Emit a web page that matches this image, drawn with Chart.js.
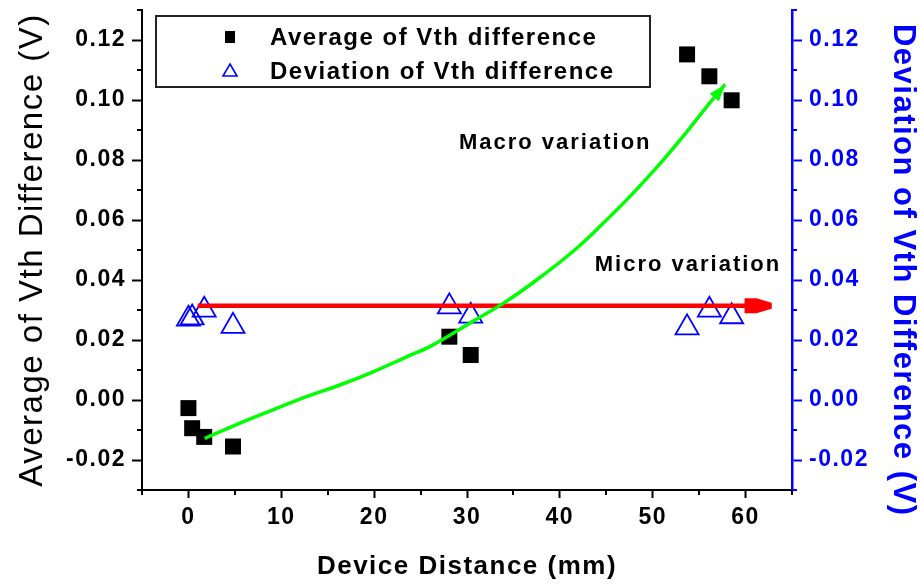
<!DOCTYPE html>
<html>
<head>
<meta charset="utf-8">
<script src="https://cdn.jsdelivr.net/npm/chart.js@4.4.1/dist/chart.umd.min.js"></script>
<style>
  html, body { margin: 0; padding: 0; background: #fff; }
  #wrap { width: 921px; height: 587px; position: relative; }
</style>
</head>
<body>
<div id="wrap"><canvas id="c" width="921" height="587"></canvas></div>
<script>
// Measured Vth difference vs. device distance (mm)
const distance = [0, 0.4, 1.7, 4.8, 28.1, 30.4, 53.7, 56.1, 58.5];
const avgVth   = [-0.0027, -0.0094, -0.0123, -0.0155, 0.0211, 0.0150, 0.1152, 0.1079, 0.0999];
const devVth   = [0.0270, 0.0274, 0.0300, 0.0246, 0.0311, 0.0280, 0.0241, 0.0300, 0.0278];

// Axis ticks
const xTicks      = [0, 10, 20, 30, 40, 50, 60];
const xMinorTicks = [-5, 5, 15, 25, 35, 45, 55, 65];
const yTicks      = [-0.02, 0.00, 0.02, 0.04, 0.06, 0.08, 0.10, 0.12];
const yMinorTicks = [-0.03, -0.01, 0.01, 0.03, 0.05, 0.07, 0.09, 0.11, 0.13];

// Trend guides: macro (green curve) and micro (red flat line)
const macroX = [1.75, 5.5, 9.1, 12.7, 16.3, 19.9, 23.5, 26.0, 30.3, 33.9, 37.5, 41.6, 44.3, 47.5, 51.1, 53.6, 55.8, 57.8];
const macroY = [-0.0128, -0.0078, -0.0033, 0.0011, 0.0050, 0.0094, 0.0144, 0.0178, 0.0256, 0.0322, 0.0400, 0.0500, 0.0578, 0.0677, 0.0799, 0.0891, 0.0977, 0.1052];
const microX = [1.0, 62.8];
const microY = [0.0314, 0.0314];

const noteText = ['Macro variation', 'Micro variation'];
const noteX    = [39.5, 53.8];
const noteY    = [0.0857, 0.0450];

const FONT = 'Liberation Sans, Arial, sans-serif';
const BLUE = '#0000ff';

const pts = (xs, ys) => xs.map((x, i) => ({ x, y: ys[i] }));

// keep the plot frame fixed: no extra label padding around the axes
const fixV = w => s => { s.width = w; s.paddingTop = 0; s.paddingBottom = 0; };
const fixH = h => s => { s.height = h; s.paddingLeft = 0; s.paddingRight = 0; };

const guides = {
  id: 'guides',
  beforeDraw(chart) {
    chart.ctx.letterSpacing = '1.5px';
  },
  afterDatasetsDraw(chart) {
    const ctx = chart.ctx;
    const xs = chart.scales.x, ys = chart.scales.y, y2 = chart.scales.y2;
    ctx.save();
    // green arrowhead at the end of the macro curve
    const n = macroX.length;
    const tx = xs.getPixelForValue(macroX[n - 1]), ty = ys.getPixelForValue(macroY[n - 1]);
    const px = xs.getPixelForValue(macroX[n - 2]), py = ys.getPixelForValue(macroY[n - 2]);
    const a = Math.atan2(ty - py, tx - px);
    const L = 17, W = 6;
    ctx.fillStyle = '#00ff00';
    ctx.beginPath();
    ctx.moveTo(tx, ty);
    ctx.lineTo(tx - L * Math.cos(a) + W * Math.sin(a), ty - L * Math.sin(a) - W * Math.cos(a));
    ctx.lineTo(tx - L * Math.cos(a) - W * Math.sin(a), ty - L * Math.sin(a) + W * Math.cos(a));
    ctx.closePath();
    ctx.fill();
    // red arrowhead at the end of the micro line
    const rx = xs.getPixelForValue(microX[1]), ry = y2.getPixelForValue(microY[1]);
    ctx.fillStyle = '#ff0000';
    ctx.beginPath();
    ctx.moveTo(rx - 27, ry - 7.5);
    ctx.lineTo(rx - 15, ry - 7.5);
    ctx.lineTo(rx, ry - 3);
    ctx.lineTo(rx, ry + 3);
    ctx.lineTo(rx - 15, ry + 7.5);
    ctx.lineTo(rx - 27, ry + 7.5);
    ctx.closePath();
    ctx.fill();
    // annotation labels
    ctx.letterSpacing = '2px';
    ctx.fillStyle = '#000';
    ctx.font = 'bold 22px ' + FONT;
    ctx.textAlign = 'center';
    ctx.textBaseline = 'middle';
    noteText.forEach((t, i) => {
      ctx.fillText(t, xs.getPixelForValue(noteX[i]), ys.getPixelForValue(noteY[i]));
    });
    ctx.restore();
  },
  afterDraw(chart) {
    const ctx = chart.ctx;
    const xs = chart.scales.x, ys = chart.scales.y, y2 = chart.scales.y2;
    const area = chart.chartArea;
    ctx.save();
    // minor ticks
    ctx.lineWidth = 2;
    ctx.strokeStyle = '#000';
    ctx.beginPath();
    xMinorTicks.forEach(v => {
      const p = Math.round(xs.getPixelForValue(v));
      ctx.moveTo(p, area.bottom);
      ctx.lineTo(p, area.bottom + 5);
    });
    yMinorTicks.forEach(v => {
      const p = Math.round(ys.getPixelForValue(v));
      ctx.moveTo(area.left, p);
      ctx.lineTo(area.left - 5, p);
    });
    ctx.stroke();
    ctx.strokeStyle = BLUE;
    ctx.beginPath();
    yMinorTicks.forEach(v => {
      const p = Math.round(y2.getPixelForValue(v));
      ctx.moveTo(area.right, p);
      ctx.lineTo(area.right + 5, p);
    });
    ctx.stroke();

    // legend box
    const bx = area.left + 14, by = 16, bw = 494, bh = 71;
    ctx.fillStyle = '#fff';
    ctx.fillRect(bx, by, bw, bh);
    ctx.lineWidth = 2;
    ctx.strokeStyle = '#222';
    ctx.strokeRect(bx, by, bw, bh);
    const ds = chart.data.datasets;
    const rows = [by + 21, by + 55];
    const mx = bx + 74;
    // square marker
    ctx.fillStyle = '#000';
    ctx.fillRect(mx - 5, rows[0] - 6, 10, 12);
    // triangle marker
    ctx.strokeStyle = BLUE;
    ctx.lineWidth = 1.6;
    ctx.beginPath();
    ctx.moveTo(mx, rows[1] - 7);
    ctx.lineTo(mx + 7, rows[1] + 5);
    ctx.lineTo(mx - 7, rows[1] + 5);
    ctx.closePath();
    ctx.stroke();
    ctx.letterSpacing = '1.5px';
    ctx.fillStyle = '#000';
    ctx.font = 'bold 24px ' + FONT;
    ctx.textAlign = 'left';
    ctx.textBaseline = 'middle';
    ctx.fillText(ds[0].label, bx + 114, rows[0] + 1);
    ctx.fillText(ds[1].label, bx + 114, rows[1] + 1);
    ctx.restore();
    ctx.letterSpacing = '0px';
  }
};

new Chart(document.getElementById('c'), {
  type: 'scatter',
  data: {
    datasets: [
      {
        label: 'Average of Vth difference',
        data: pts(distance, avgVth),
        yAxisID: 'y',
        pointStyle: 'rect',
        pointRadius: 11.3,
        backgroundColor: '#000',
        borderColor: '#000',
        borderWidth: 0,
        order: 2
      },
      {
        label: 'Deviation of Vth difference',
        data: pts(distance, devVth),
        yAxisID: 'y2',
        pointStyle: 'triangle',
        pointRadius: 13.3,
        backgroundColor: 'rgba(0,0,0,0)',
        borderColor: BLUE,
        borderWidth: 1.8,
        order: 2
      },
      {
        label: 'Macro variation',
        data: pts(macroX, macroY),
        yAxisID: 'y',
        showLine: true,
        borderColor: '#00ff00',
        borderWidth: 3.5,
        pointRadius: 0,
        tension: 0.3,
        order: 0
      },
      {
        label: 'Micro variation',
        data: pts(microX, microY),
        yAxisID: 'y2',
        showLine: true,
        borderColor: '#ff0000',
        borderWidth: 4.5,
        pointRadius: 0,
        order: 1
      }
    ]
  },
  options: {
    responsive: false,
    animation: false,
    devicePixelRatio: 1,
    layout: { autoPadding: false, padding: { top: 10, left: 0, right: 0, bottom: 0 } },
    plugins: { legend: { display: false }, tooltip: { enabled: false } },
    scales: {
      x: {
        type: 'linear',
        position: 'bottom',
        min: -5,
        max: 65,
        afterBuildTicks: s => { s.ticks = xTicks.map(v => ({ value: v })); },
        afterFit: fixH(97),
        grid: { display: true, drawOnChartArea: false, drawTicks: true, tickLength: 8, tickWidth: 2, tickColor: '#000' },
        border: { display: true, color: '#000', width: 2 },
        ticks: { color: '#000', padding: 6, maxRotation: 0, autoSkip: false,
                 font: { family: FONT, size: 23, weight: 'bold' } },
        title: { display: true, text: 'Device Distance (mm)', color: '#000',
                 font: { family: FONT, size: 26, weight: 'bold' }, padding: { top: 0, bottom: 5 } }
      },
      y: {
        type: 'linear',
        position: 'left',
        min: -0.03,
        max: 0.13,
        afterBuildTicks: s => { s.ticks = yTicks.map(v => ({ value: v })); },
        afterFit: fixV(142),
        grid: { display: true, drawOnChartArea: false, drawTicks: true, tickLength: 10, tickWidth: 2, tickColor: '#000' },
        border: { display: true, color: '#000', width: 2 },
        ticks: { color: '#000', padding: 6, callback: v => v.toFixed(2),
                 font: { family: FONT, size: 23, weight: 'bold' } },
        title: { display: true, text: 'Average of Vth Difference (V)', color: '#000',
                 font: { family: FONT, size: 33, weight: 'normal' }, padding: { top: 13, bottom: 0 } }
      },
      y2: {
        type: 'linear',
        position: 'right',
        min: -0.03,
        max: 0.13,
        afterBuildTicks: s => { s.ticks = yTicks.map(v => ({ value: v })); },
        afterFit: fixV(129),
        grid: { display: true, drawOnChartArea: false, drawTicks: true, tickLength: 10, tickWidth: 2, tickColor: BLUE },
        border: { display: true, color: BLUE, width: 2.5 },
        ticks: { color: BLUE, padding: 7, callback: v => v.toFixed(2),
                 font: { family: FONT, size: 23, weight: 'bold' } },
        title: { display: true, text: '    Deviation of Vth Difference (V)', color: BLUE,
                 font: { family: FONT, size: 31, weight: 'bold' }, padding: { top: 0, bottom: 0 } }
      }
    }
  },
  plugins: [guides]
});
</script>
</body>
</html>
